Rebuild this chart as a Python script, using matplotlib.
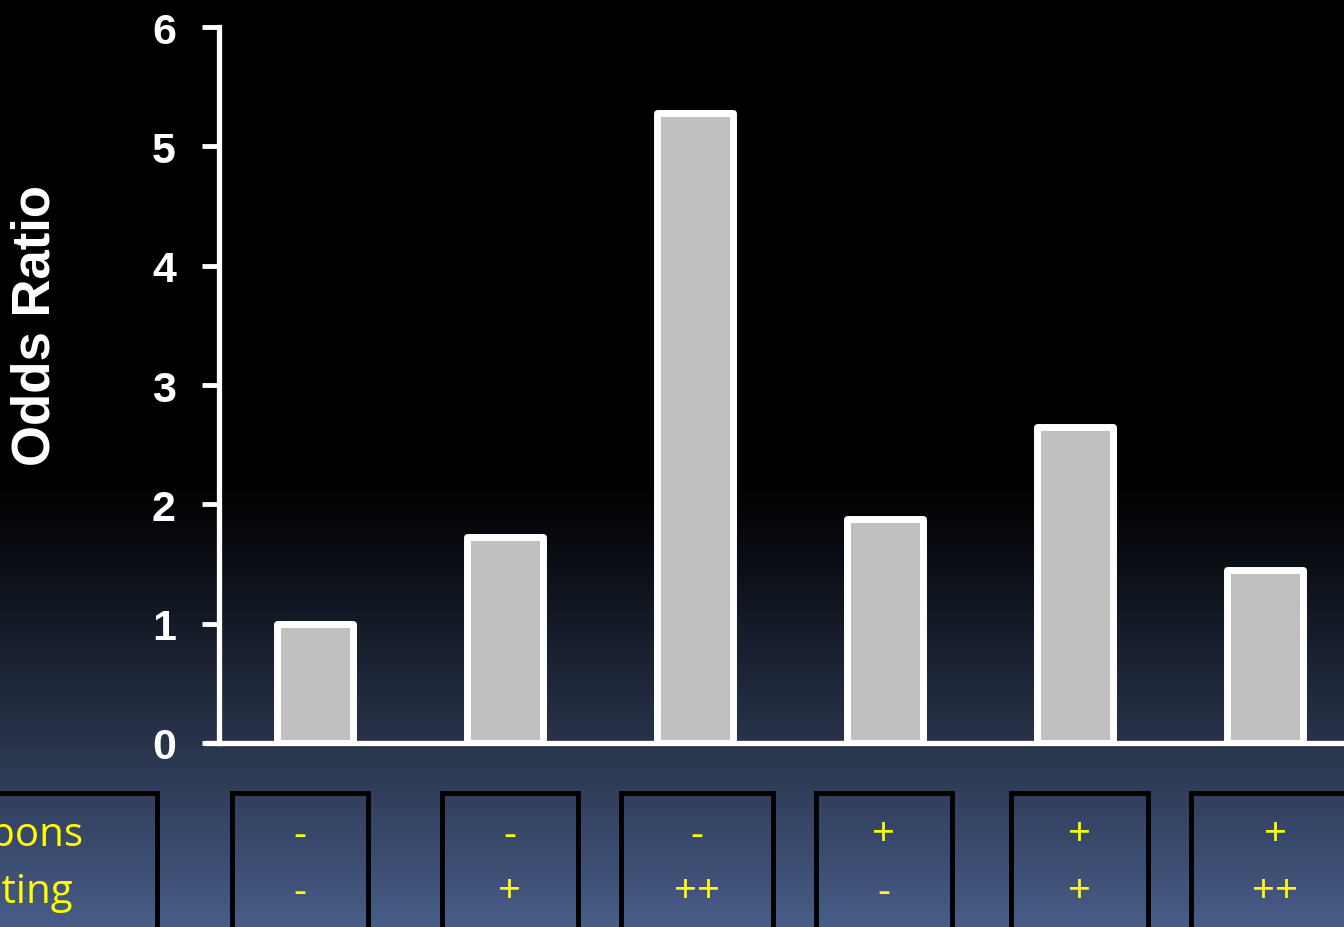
import numpy as np
import matplotlib
matplotlib.use("Agg")
import matplotlib.pyplot as plt
from matplotlib.colors import LinearSegmentedColormap
from matplotlib.patches import Rectangle

# values
odds = [1.0, 1.73, 5.28, 1.88, 2.65, 1.45]
row1 = ["-", "-", "-", "+", "+", "+"]
row2 = ["-", "+", "++", "-", "+", "++"]
row_names = ["Weapons", "Fighting"]
yticks = [0, 1, 2, 3, 4, 5, 6]

W, H = 1344, 928
fig = plt.figure(figsize=(W / 100, H / 100), dpi=100)

# background gradient, black on top to slate blue at the bottom
bg = fig.add_axes([0, 0, 1, 1], zorder=-10)
cmap = LinearSegmentedColormap.from_list("bg", [
    (0.0, "#000000"), (0.52, "#000000"), (0.62, "#0c1018"),
    (0.80, "#28334a"), (1.0, "#485c87")])
grad = np.linspace(0, 1, 400).reshape(-1, 1)
bg.imshow(grad, aspect="auto", cmap=cmap, extent=[0, 1, 1, 0])
bg.set_axis_off()

ax = fig.add_axes([219 / W, (H - 744) / H, 1 - 219 / W, (744 - 28) / H])
ax.patch.set_alpha(0)
x = np.arange(len(odds))
ax.bar(x, odds, width=0.4, color="#c0c0c0", edgecolor="white",
       linewidth=5, joinstyle="round", zorder=2)
ax.set_xlim(-0.505, 5.416)
ax.set_ylim(0, 6)
ax.set_yticks(yticks)
ax.set_yticklabels([str(t) for t in yticks], fontsize=31, fontweight="bold",
                   color="white", family="Liberation Sans")
ax.tick_params(axis="y", length=12, width=3.5, color="white", pad=19)
ax.set_xticks([])
for s in ["top", "right"]:
    ax.spines[s].set_visible(False)
for s in ["left", "bottom"]:
    ax.spines[s].set_color("white")
    ax.spines[s].set_linewidth(3.8)
    ax.spines[s].set_zorder(3)
ax.spines["bottom"].set_bounds(-0.57, 5.416)
ax.spines["bottom"].set_clip_on(False)

fig.text(36 / W, 1 - 325 / H, "Odds Ratio", rotation=90, fontsize=38,
         fontweight="bold", color="white", family="Liberation Sans",
         ha="center", va="center")

# table of boxes under the bars (pixel layout)
boxes = [(232, 368), (442, 578), (621, 773), (816, 952), (1011, 1148), (1191, 1360)]
top_y = 794
y1, y2 = 836, 893
for (l, r), a, b in zip(boxes, row1, row2):
    fig.patches.append(Rectangle((l / W, 0 - 0.01), (r - l) / W, (H - top_y) / H + 0.01,
                                 transform=fig.transFigure, fill=False,
                                 edgecolor="black", linewidth=3.5))
    cx = (l + r) / 2 / W
    fig.text(cx, 1 - y1 / H, a, fontsize=29, color="yellow", family="Open Sans",
             ha="center", va="center")
    fig.text(cx, 1 - y2 / H, b, fontsize=29, color="yellow", family="Open Sans",
             ha="center", va="center")

fig.patches.append(Rectangle((-0.1, -0.01), 0.1 + 157 / W, (H - top_y) / H + 0.01,
                             transform=fig.transFigure, fill=False,
                             edgecolor="black", linewidth=3.5))
fig.text(83 / W, 1 - y1 / H, row_names[0], fontsize=29, color="yellow",
         family="Open Sans", ha="right", va="center")
fig.text(73 / W, 1 - y2 / H, row_names[1], fontsize=29, color="yellow",
         family="Open Sans", ha="right", va="center")

fig.savefig("out.png", dpi=100)
